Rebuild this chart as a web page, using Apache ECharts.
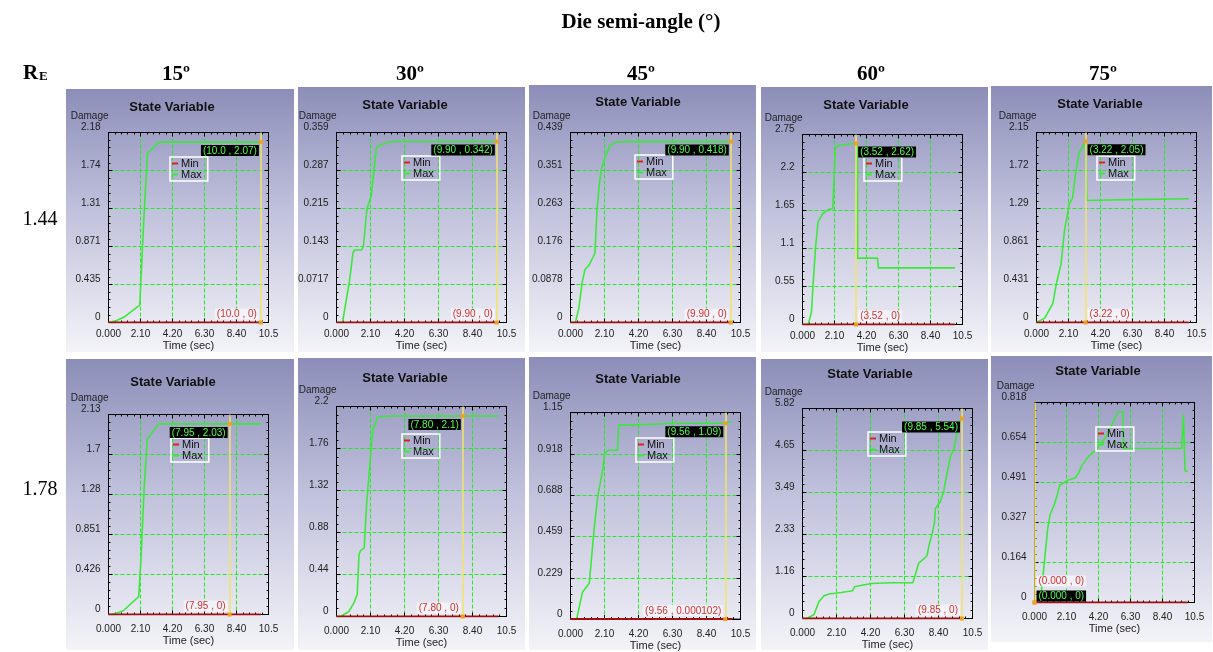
<!DOCTYPE html>
<html>
<head>
<meta charset="utf-8">
<script src="https://cdn.jsdelivr.net/npm/echarts@6/dist/echarts.min.js"></script>
<style>
html,body{margin:0;padding:0;background:#fff}
#chart{width:1213px;height:652px}
</style>
</head>
<body>
<div id="chart"></div>
<script>
// --- data ---
const angles = ['15º', '30º', '45º', '60º', '75º']
const ratios = ['1.44', '1.78']
const xTicks = ['0.000', '2.10', '4.20', '6.30', '8.40', '10.5']

const yTicks15a = ['0', '0.435', '0.871', '1.31', '1.74', '2.18']
const yTicks30a = ['0', '0.0717', '0.143', '0.215', '0.287', '0.359']
const yTicks45a = ['0', '0.0878', '0.176', '0.263', '0.351', '0.439']
const yTicks60a = ['0', '0.55', '1.1', '1.65', '2.2', '2.75']
const yTicks75a = ['0', '0.431', '0.861', '1.29', '1.72', '2.15']
const yTicks15b = ['0', '0.426', '0.851', '1.28', '1.7', '2.13']
const yTicks30b = ['0', '0.44', '0.88', '1.32', '1.76', '2.2']
const yTicks45b = ['0', '0.229', '0.459', '0.688', '0.918', '1.15']
const yTicks60b = ['0', '1.16', '2.33', '3.49', '4.65', '5.82']
const yTicks75b = ['0', '0.164', '0.327', '0.491', '0.654', '0.818']

// cursor readouts
const cursorT = [10.0, 9.90, 9.90, 3.52, 3.22, 7.95, 7.80, 9.56, 9.85, 0]
const cursorTText = ['10.0', '9.90', '9.90', '3.52', '3.22', '7.95', '7.80', '9.56', '9.85', '0.000']
const cursorMax = [2.07, 0.342, 0.418, 2.62, 2.05, 2.03, 2.1, 1.09, 5.54, 0]
const cursorMaxText = ['2.07', '0.342', '0.418', '2.62', '2.05', '2.03', '2.1', '1.09', '5.54', '0']
const cursorMin = [0, 0, 0, 0, 0, 0, 0, 0.000102, 0, 0]
const cursorMinText = ['0', '0', '0', '0', '0', '0', '0', '0.000102', '0', '0']

// Max damage curves [time, damage]
const max15a = [[0,0],[0.5,0.02],[1.0,0.06],[2.05,0.2],[2.3,1.12],[2.56,1.94],[3.3,2.07],[10.0,2.07]]
const max30a = [[0,0],[0.37,0],[0.8,0.078],[1.02,0.132],[1.12,0.137],[1.55,0.137],[1.66,0.144],[1.88,0.215],[2.14,0.239],[2.31,0.286],[2.46,0.33],[2.74,0.336],[3.39,0.342],[9.9,0.342]]
const max45a = [[0,0],[0.3,0],[0.51,0.032],[0.72,0.092],[0.89,0.122],[1.15,0.133],[1.51,0.16],[1.63,0.258],[1.78,0.318],[1.89,0.352],[2.1,0.378],[2.42,0.408],[2.84,0.417],[3.37,0.418],[9.9,0.418]]
const max60a = [[0,0],[0.37,0],[0.59,0.18],[0.69,0.57],[0.85,1.1],[1.02,1.49],[1.35,1.61],[1.67,1.66],[1.99,1.68],[2.15,2.55],[2.32,2.59],[3.41,2.62],[3.6,2.62],[3.62,0.96],[4.92,0.96],[4.98,0.82],[10.0,0.82]]
const max75a = [[0,0],[0.11,0],[0.54,0.05],[0.86,0.15],[1.08,0.22],[1.29,0.43],[1.61,0.66],[1.83,1.03],[2.15,1.34],[2.37,1.41],[2.58,1.71],[2.8,1.92],[3.22,2.05],[3.28,2.05],[3.3,1.38],[6.0,1.39],[10.0,1.4]]
const max15b = [[0,0],[0.2,0],[0.44,0.01],[0.97,0.04],[1.98,0.19],[2.13,0.58],[2.34,1.35],[2.55,1.87],[3.29,2.03],[10.0,2.03]]
const max30b = [[0,0],[0.25,0],[0.75,0.05],[1.07,0.14],[1.28,0.23],[1.39,0.65],[1.49,0.69],[1.71,0.72],[1.86,1.18],[2.07,1.61],[2.24,1.96],[2.56,2.09],[3.31,2.1],[10.0,2.1]]
const max45b = [[0,0],[0.38,0],[0.74,0.15],[1.16,0.2],[1.47,0.51],[1.68,0.68],[1.99,0.83],[2.1,0.92],[2.31,0.94],[2.9,0.94],[2.98,1.08],[3.78,1.08],[6.51,1.09],[9.56,1.09],[9.98,1.1]]
const max60b = [[0,0],[0.29,0],[0.71,0.11],[1.02,0.47],[1.33,0.63],[1.65,0.68],[2.38,0.72],[3.1,0.77],[3.21,0.88],[3.42,0.9],[4.25,0.97],[5.5,0.99],[6.81,0.99],[6.96,1.2],[7.17,1.53],[7.48,1.65],[7.69,1.74],[7.83,2.06],[8.0,2.33],[8.15,2.65],[8.21,3.05],[8.52,3.24],[8.73,3.55],[8.94,4.05],[9.15,4.51],[9.35,4.69],[9.56,5.19],[9.77,5.52],[9.85,5.54]]
const max75b = [[0.35,0],[0.39,0.01],[0.64,0.16],[0.86,0.3],[1.03,0.36],[1.29,0.4],[1.5,0.44],[1.65,0.48],[1.93,0.49],[2.19,0.5],[2.68,0.51],[2.9,0.53],[3.11,0.56],[3.44,0.59],[3.76,0.61],[3.97,0.62],[4.29,0.65],[4.62,0.67],[4.94,0.71],[5.26,0.75],[5.48,0.78],[5.8,0.78],[5.84,0.63],[6.44,0.63],[9.66,0.63],[9.77,0.77],[9.88,0.54],[10.05,0.535]]

// Min damage curves
const min15a = [[0,0],[10.0,0]]
const min30a = [[0,0],[9.9,0]]
const min45a = [[0,0],[9.9,0]]
const min60a = [[0,0],[10.0,0]]
const min75a = [[0,0],[10.0,0]]
const min15b = [[0,0],[10.0,0]]
const min30b = [[0,0],[10.0,0]]
const min45b = [[0,0],[10.0,0]]
const min60b = [[0,0],[9.85,0]]
const min75b = [[0,0],[10.05,0]]

const yTicks = [yTicks15a, yTicks30a, yTicks45a, yTicks60a, yTicks75a, yTicks15b, yTicks30b, yTicks45b, yTicks60b, yTicks75b]
const maxData = [max15a, max30a, max45a, max60a, max75a, max15b, max30b, max45b, max60b, max75b]
const minData = [min15a, min30a, min45a, min60a, min75a, min15b, min30b, min45b, min60b, min75b]

// --- layout (pixels) ---
const panelBox = [
  [66,89,228,263],[298,87,227,265],[529,85,227,267],[761,87,227,265],[991,86,221,266],
  [66,359,228,291],[298,358,227,292],[529,357,227,293],[761,359,227,291],[991,356,221,286]
]
// grid lines land on even pixel columns/rows so they stay green after chroma subsampling
const plotBox = [
  [108.5,132.5,160,190],[336.5,132.5,170,190],[570.5,132.5,170,190],[802.5,134.5,160,190],[1036.5,132.5,160,190],
  [108.5,414.5,160,200],[336.5,406.5,170,210],[570.5,412.5,170,210],[802.5,408.5,170,210],[1034.5,402.5,160,200]
]
const titlePos = [[172,107],[405,105],[638,102],[866,105],[1100,104],[173,382],[405,378],[638,379],[870,374],[1098,371]]
const legendPos = [[170,157],[402,156],[635,155],[864,157],[1097,156],[171,438],[402,434],[636,438],[868,432],[1096,427]]
const labelSide = ['L','L','L','R','R','L','L','L','L','Z']

const narrow = '"Liberation Sans Narrow", "Arial Narrow", "Liberation Sans", sans-serif'
const serif = '"Liberation Serif", "Times New Roman", serif'
const green = '#3de83d'
const minRed = '#a01010'

const grids = [], xAxes = [], yAxes = [], series = [], legends = [], graphics = []

panelBox.forEach((b, i) => {
  graphics.push({
    type: 'rect', z: -10,
    shape: { x: b[0], y: b[1], width: b[2], height: b[3] },
    style: {
      fill: new echarts.graphic.LinearGradient(0, 0, 0, 1, [
        { offset: 0, color: '#8c8eb9' },
        { offset: 0.45, color: '#bfc0db' },
        { offset: 1, color: '#f3f3f8' }
      ])
    }
  })
  graphics.push({
    type: 'text', z: 10, x: titlePos[i][0], y: titlePos[i][1],
    style: { text: 'State Variable', font: 'bold 13px "Liberation Sans", Arial, sans-serif', fill: '#111', align: 'center', verticalAlign: 'middle' }
  })
})

const tick = () => ({ show: true, inside: true, length: 4, lineStyle: { color: '#000', width: 1 } })
const minor = () => ({ show: true, splitNumber: 5, length: 2, lineStyle: { color: '#000', width: 1 } })
const gridLine = () => ({ show: true, showMinLine: false, showMaxLine: false, lineStyle: { color: '#28e628', type: [4, 2], width: 1 } })
const frame = () => ({ show: true, onZero: false, lineStyle: { color: '#000', width: 1 } })
const noSplit = { splitLine: { show: false }, minorSplitLine: { show: false }, splitArea: { show: false } }

plotBox.forEach((p, i) => {
  const row2 = i >= 5
  const yMax = parseFloat(yTicks[i][5])
  const yInt = yMax / 5
  grids.push({ left: p[0], top: p[1], width: p[2], height: p[3], show: true, borderColor: '#000', borderWidth: 1, backgroundColor: 'transparent' })

  xAxes.push({
    type: 'value', gridIndex: i, min: 0, max: 10.5, interval: 2.1,
    axisLine: frame(), axisTick: tick(), minorTick: minor(), splitLine: gridLine(),
    minorSplitLine: { show: false }, splitArea: { show: false },
    axisLabel: {
      margin: row2 ? 10 : 7, fontSize: 10, color: '#222', fontFamily: narrow,
      formatter: v => xTicks[Math.round(v / 2.1)]
    },
    name: 'Time (sec)', nameLocation: 'middle', nameGap: row2 ? 19 : 15,
    nameTextStyle: { fontSize: 11, color: '#222', fontFamily: narrow }
  })
  xAxes.push(Object.assign({
    type: 'value', gridIndex: i, position: 'top', min: 0, max: 10.5, interval: 2.1,
    axisLine: frame(), axisTick: tick(), minorTick: minor(), axisLabel: { show: false }
  }, noSplit))
  yAxes.push({
    type: 'value', gridIndex: i, min: 0, max: yMax, interval: yInt,
    axisLine: frame(), axisTick: tick(), minorTick: minor(), splitLine: gridLine(),
    minorSplitLine: { show: false }, splitArea: { show: false },
    axisLabel: {
      margin: 8, fontSize: 10, color: '#222', fontFamily: narrow, verticalAlign: 'bottom',
      formatter: v => yTicks[i][Math.round(v / yInt)]
    },
    name: 'Damage', nameLocation: 'end', nameGap: 11,
    nameTextStyle: { fontSize: 10, color: '#222', fontFamily: narrow, align: 'right', verticalAlign: 'bottom' }
  })
  yAxes.push(Object.assign({
    type: 'value', gridIndex: i, position: 'right', min: 0, max: yMax, interval: yInt,
    axisLine: frame(), axisTick: tick(), minorTick: minor(), axisLabel: { show: false }
  }, noSplit))

  const side = labelSide[i]
  const greenLbl = {
    show: true, fontSize: 10, fontFamily: narrow, color: '#4dff4d', backgroundColor: '#000', padding: [1, 2, 0, 2],
    formatter: '(' + cursorTText[i] + ' , ' + cursorMaxText[i] + ')'
  }
  const redLbl = {
    show: true, fontSize: 10, fontFamily: narrow, color: '#d03030', backgroundColor: 'rgba(245,245,250,0.85)', padding: [1, 2, 0, 2],
    formatter: '(' + cursorTText[i] + ' , ' + cursorMinText[i] + ')'
  }
  if (side === 'L') {
    Object.assign(greenLbl, { position: [0, 5], align: 'right', verticalAlign: 'top' })
    Object.assign(redLbl, { position: [0, -1], align: 'right', verticalAlign: 'bottom' })
  } else if (side === 'R') {
    Object.assign(greenLbl, { position: [4, 5], align: 'left', verticalAlign: 'top' })
    Object.assign(redLbl, { position: [4, -1], align: 'left', verticalAlign: 'bottom' })
  } else {
    Object.assign(greenLbl, { position: [4, 1], align: 'left', verticalAlign: 'bottom' })
    Object.assign(redLbl, { position: [4, -14], align: 'left', verticalAlign: 'bottom' })
  }

  series.push({
    name: 'Max', type: 'line', xAxisIndex: 2 * i, yAxisIndex: 2 * i,
    data: maxData[i], showSymbol: false, color: green,
    lineStyle: { color: green, width: 1.6 }, z: 3,
    markLine: {
      silent: true, symbol: 'none', label: { show: false },
      lineStyle: { color: '#f2e36a', width: 1.5, type: 'solid' },
      data: [{ xAxis: cursorT[i] }]
    },
    markPoint: {
      silent: true, symbol: 'rect', symbolSize: 4, itemStyle: { color: '#f0a020' },
      data: [
        { coord: [cursorT[i], cursorMax[i]], label: greenLbl },
        { coord: [cursorT[i], cursorMin[i]], label: redLbl }
      ]
    }
  })
  series.push({
    name: 'Min', type: 'line', xAxisIndex: 2 * i, yAxisIndex: 2 * i,
    data: minData[i], showSymbol: false, color: '#e02020',
    lineStyle: { color: minRed, width: 2 }, z: 4
  })

  legends.push({
    left: legendPos[i][0], top: legendPos[i][1], orient: 'vertical',
    data: ['Min', 'Max'], icon: 'rect', itemWidth: 6, itemHeight: 2, itemGap: 0,
    padding: [1, 6, 1, 2], borderColor: '#fff', borderWidth: 1.5, backgroundColor: 'transparent',
    selectedMode: false,
    textStyle: { fontSize: 11, lineHeight: 8, color: '#111', fontFamily: narrow, padding: [0, 0, 0, -2] }
  })
})

// figure headers
graphics.push({ type: 'text', x: 641, y: 23, style: { text: 'Die semi-angle (°)', font: 'bold 21px ' + serif, fill: '#000', align: 'center', verticalAlign: 'middle' } })
const colX = [176, 410, 641, 871, 1103]
angles.forEach((a, k) => {
  graphics.push({ type: 'text', x: colX[k], y: 75, style: { text: a, font: 'bold 21px ' + serif, fill: '#000', align: 'center', verticalAlign: 'middle' } })
})
graphics.push({ type: 'text', x: 23, y: 84, style: { text: 'R', font: 'bold 21px ' + serif, fill: '#000', align: 'left', verticalAlign: 'bottom' } })
graphics.push({ type: 'text', x: 39, y: 83, style: { text: 'E', font: 'bold 13px ' + serif, fill: '#000', align: 'left', verticalAlign: 'bottom' } })
const rowY = [220, 490]
ratios.forEach((r, k) => {
  graphics.push({ type: 'text', x: 40, y: rowY[k], style: { text: r, font: '20px ' + serif, fill: '#000', align: 'center', verticalAlign: 'middle' } })
})

const chart = echarts.init(document.getElementById('chart'))
chart.setOption({
  animation: false,
  backgroundColor: '#fff',
  grid: grids,
  xAxis: xAxes,
  yAxis: yAxes,
  legend: legends,
  graphic: graphics,
  series: series
})
</script>
</body>
</html>
